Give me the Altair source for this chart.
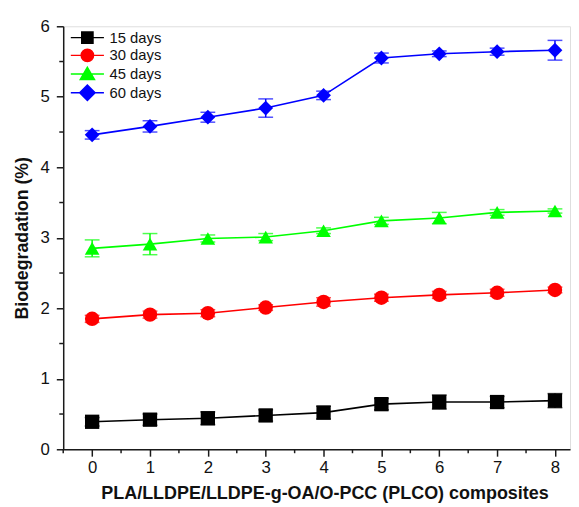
import altair as alt
import pandas as pd

# ---- data ----
composites = [0, 1, 2, 3, 4, 5, 6, 7, 8]
series_names = ["15 days", "30 days", "45 days", "60 days"]

d15 = [0.39, 0.42, 0.44, 0.48, 0.52, 0.64, 0.67, 0.67, 0.69]
e15 = [0.06, 0.08, 0.09, 0.08, 0.09, 0.08, 0.10, 0.08, 0.10]
d30 = [1.85, 1.91, 1.93, 2.01, 2.09, 2.15, 2.19, 2.22, 2.26]
e30 = [0.05, 0.05, 0.05, 0.04, 0.06, 0.05, 0.05, 0.05, 0.04]
d45 = [2.85, 2.91, 2.99, 3.01, 3.10, 3.24, 3.28, 3.36, 3.38]
e45 = [0.12, 0.15, 0.05, 0.05, 0.04, 0.05, 0.08, 0.04, 0.03]
d60 = [4.46, 4.58, 4.71, 4.84, 5.02, 5.55, 5.61, 5.64, 5.66]
e60 = [0.06, 0.08, 0.07, 0.13, 0.06, 0.07, 0.04, 0.05, 0.14]

y_ticks = [0, 1, 2, 3, 4, 5, 6]
y_minor = [0.5, 1.5, 2.5, 3.5, 4.5, 5.5]
x_minor = [-0.5, 0.5, 1.5, 2.5, 3.5, 4.5, 5.5, 6.5, 7.5]

colors = ["#000000", "#ff0000", "#00ff00", "#0000ff"]
shapes = ["square", "circle", "triangle-up", "diamond"]
sizes = [210, 225, 289, 300]
legend_shapes = [
    "M-2.8,0H2.8M-0.95,-0.95H0.95V0.95H-0.95Z",
    "M-2.8,0H2.8M1.05,0A1.05,1.05,0,1,1,-1.05,0A1.05,1.05,0,1,1,1.05,0Z",
    "M-2.8,0H2.8M0,-1.15L1.2,0.9H-1.2Z",
    "M-2.8,0H2.8M-1.3,0L0,-1.3L1.3,0L0,1.3Z",
]

rows = []
for name, vals, errs in zip(series_names, [d15, d30, d45, d60], [e15, e30, e45, e60]):
    for xv, yv, ev in zip(composites, vals, errs):
        rows.append({"series": name, "x": xv, "y": yv, "lo": yv - ev, "hi": yv + ev})
df = pd.DataFrame(rows)

W, H = 514, 429
FONT = "Liberation Sans"
AX = "#1a1a1a"

xscale = alt.Scale(domain=[-0.5, 8.26], nice=False, zero=False)
yscale = alt.Scale(domain=[0, 6], nice=False)
cscale = alt.Scale(domain=series_names, range=colors)

xaxis = alt.Axis(values=composites, format="d", grid=False, tickSize=7, tickWidth=1.5, tickColor=AX,
                 domainColor=AX, domainWidth=1.5, labelFont=FONT, labelFontSize=17,
                 labelColor="#111", labelPadding=4, labelFlush=False,
                 title="PLA/LLDPE/LLDPE-g-OA/O-PCC (PLCO) composites",
                 titleFont=FONT, titleFontSize=18.2, titleFontWeight="bold", titleColor="#111",
                 titleX=265, titleY=50, titleBaseline="alphabetic")
yaxis = alt.Axis(values=y_ticks, format="d", grid=False, tickSize=7, tickWidth=1.5, tickColor=AX,
                 domainColor=AX, domainWidth=1.5, labelFont=FONT, labelFontSize=17,
                 labelColor="#111", labelPadding=7, labelFlush=False,
                 title="Biodegradation (%)", titleFont=FONT, titleFontSize=18,
                 titleFontWeight="bold", titleColor="#111", titleX=-36,
                 titleBaseline="alphabetic", titleAngle=270)

base = alt.Chart(df)
X = alt.X("x:Q", scale=xscale, axis=xaxis)
Y = alt.Y("y:Q", scale=yscale, axis=yaxis)
C = alt.Color("series:N", scale=cscale, legend=None)

lines = base.mark_line(strokeWidth=1.6).encode(x=X, y=Y, color=C, detail="series:N")
err = base.mark_rule(strokeWidth=1.5).encode(x="x:Q", y="lo:Q", y2="hi:Q", color=C)
cap_lo = base.mark_tick(orient="horizontal", size=15, thickness=1.5).encode(x="x:Q", y="lo:Q", color=C)
cap_hi = base.mark_tick(orient="horizontal", size=15, thickness=1.5).encode(x="x:Q", y="hi:Q", color=C)
points = base.mark_point(filled=True, opacity=1).encode(
    x="x:Q", y="y:Q", color=C,
    shape=alt.Shape("series:N", scale=alt.Scale(domain=series_names, range=shapes), legend=None),
    size=alt.Size("series:N", scale=alt.Scale(domain=series_names, range=sizes), legend=None),
)

legend_def = alt.Legend(orient="none", legendX=17, legendY=4, title=None, padding=0,
                        symbolSize=144, symbolStrokeWidth=1.5, labelFont=FONT,
                        labelFontSize=15, labelColor="#111", labelOffset=15,
                        rowPadding=-1, labelLimit=200, symbolOpacity=1)
legend_layer = base.transform_filter("false").mark_point(filled=False, opacity=1, strokeWidth=1.5).encode(
    x="x:Q", y="y:Q",
    color=alt.Color("series:N", scale=cscale, legend=legend_def),
    fill=alt.Fill("series:N", scale=cscale, legend=legend_def),
    shape=alt.Shape("series:N", scale=alt.Scale(domain=series_names, range=legend_shapes),
                    legend=legend_def),
)

yminor = alt.Chart(pd.DataFrame({"v": y_minor})).mark_rule(color=AX, strokeWidth=1.5).encode(
    y=alt.Y("v:Q", scale=yscale), x=alt.value(-4), x2=alt.value(0))
xminor = alt.Chart(pd.DataFrame({"v": x_minor})).mark_rule(color=AX, strokeWidth=1.5).encode(
    x=alt.X("v:Q", scale=xscale), y=alt.value(H), y2=alt.value(H + 4))

chart = alt.layer(lines, err, cap_lo, cap_hi, points, legend_layer, yminor, xminor).resolve_scale(
    color="independent", shape="independent", size="independent", fill="independent"
).properties(
    width=W, height=H,
    autosize=alt.AutoSizeParams(type="none"),
    padding={"left": 56, "top": 15, "right": 1, "bottom": 55},
).configure_view(stroke=None).configure(background="white")

chart.save("out.html", embed_options={"renderer": "svg", "actions": False})
